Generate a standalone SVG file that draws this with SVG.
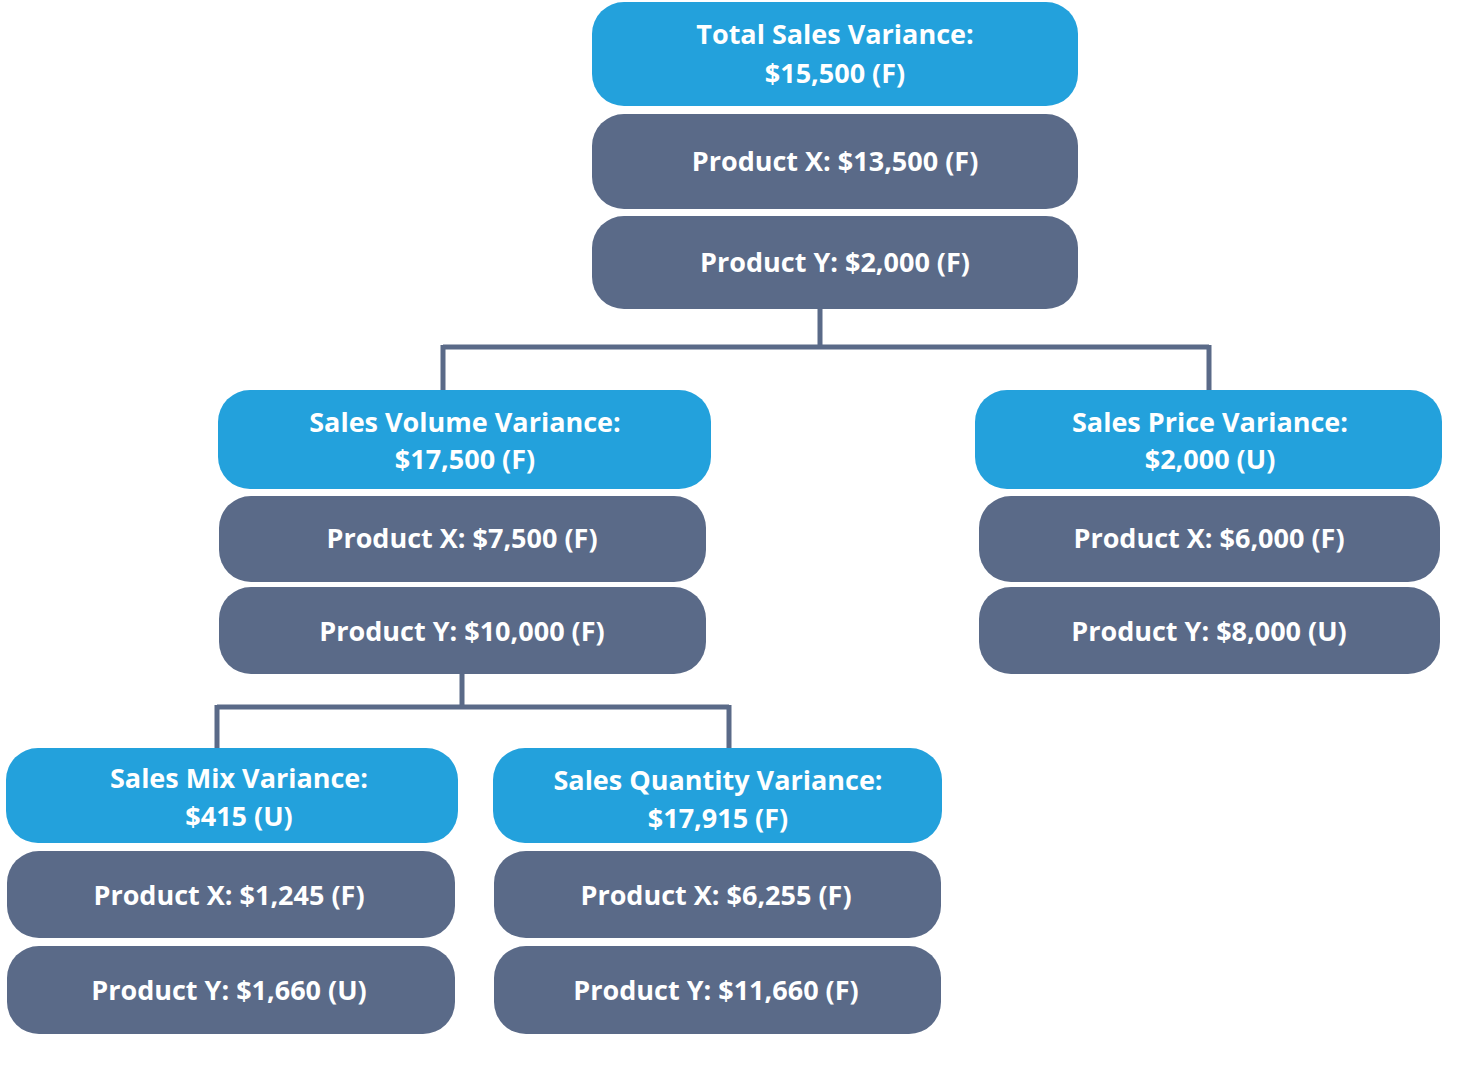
<svg xmlns="http://www.w3.org/2000/svg" width="1470" height="1070" viewBox="0 0 1470 1070">
<style>
.b{fill:#23a1dc}.s{fill:#5a6a88}
text{font-family:"Open Sans","DejaVu Sans",sans-serif;font-weight:bold;font-size:27px;fill:#fff;text-anchor:middle}
.c{stroke:#5a6a88;stroke-width:5;fill:none}
</style>
<rect width="1470" height="1070" fill="#fff"/>
<g id="connectors" class="c">
<path d="M820 309V347M443 347H1209M443 345V390M1209 345V390"/>
<path d="M462 674V707M217 707H729M217 705V748M729 705V748"/>
</g>
<g id="total">
<rect class="b" x="592" y="2" width="486" height="104" rx="32"/>
<text x="835" y="44">Total Sales Variance:</text><text x="835" y="83">$15,500 (F)</text>
<rect class="s" x="592" y="114" width="486" height="95" rx="32"/>
<text x="835" y="171">Product X: $13,500 (F)</text>
<rect class="s" x="592" y="216" width="486" height="93" rx="32"/>
<text x="835" y="272">Product Y: $2,000 (F)</text>
</g>
<g id="volume">
<rect class="b" x="218" y="390" width="493" height="99" rx="32"/>
<text x="465" y="432">Sales Volume Variance:</text><text x="465" y="469">$17,500 (F)</text>
<rect class="s" x="219" y="496" width="487" height="86" rx="32"/>
<text x="462" y="548">Product X: $7,500 (F)</text>
<rect class="s" x="219" y="587" width="487" height="87" rx="32"/>
<text x="462" y="641">Product Y: $10,000 (F)</text>
</g>
<g id="price">
<rect class="b" x="975" y="390" width="467" height="99" rx="32"/>
<text x="1210" y="432">Sales Price Variance:</text><text x="1210" y="469">$2,000 (U)</text>
<rect class="s" x="979" y="496" width="461" height="86" rx="32"/>
<text x="1209" y="548">Product X: $6,000 (F)</text>
<rect class="s" x="979" y="587" width="461" height="87" rx="32"/>
<text x="1209" y="641">Product Y: $8,000 (U)</text>
</g>
<g id="mix">
<rect class="b" x="6" y="748" width="452" height="95" rx="32"/>
<text x="239" y="788">Sales Mix Variance:</text><text x="239" y="826">$415 (U)</text>
<rect class="s" x="7" y="851" width="448" height="87" rx="32"/>
<text x="229" y="905">Product X: $1,245 (F)</text>
<rect class="s" x="7" y="946" width="448" height="88" rx="32"/>
<text x="229" y="1000">Product Y: $1,660 (U)</text>
</g>
<g id="quantity">
<rect class="b" x="493" y="748" width="449" height="95" rx="32"/>
<text x="718" y="790">Sales Quantity Variance:</text><text x="718" y="828">$17,915 (F)</text>
<rect class="s" x="494" y="851" width="447" height="87" rx="32"/>
<text x="716" y="905">Product X: $6,255 (F)</text>
<rect class="s" x="494" y="946" width="447" height="88" rx="32"/>
<text x="716" y="1000">Product Y: $11,660 (F)</text>
</g>
</svg>
